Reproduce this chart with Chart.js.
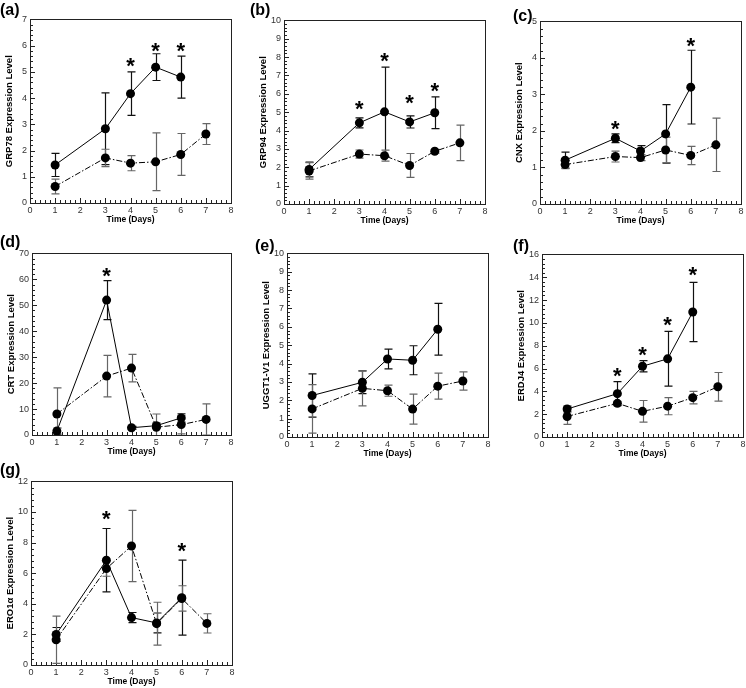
<!DOCTYPE html>
<html>
<head>
<meta charset="utf-8">
<script src="https://cdn.jsdelivr.net/npm/chart.js@4.4.1/dist/chart.umd.min.js"></script>
<style>
  html, body { margin: 0; padding: 0; background: #fff; overflow: hidden; }
  #page { position: relative; width: 746px; height: 688px; }
  .panel { position: absolute; }
  .letter { position: absolute; font: bold 16px "Liberation Sans", Arial, sans-serif; line-height: 1; color: #000; }
</style>
</head>
<body>
<div id="page"></div>
<script>
//<![CDATA[

// days sampled by each curve
let treatedDays = [1, 3, 4, 5, 6];
let controlDays = [1, 3, 4, 5, 6, 7];
let dayTicks = [0, 1, 2, 3, 4, 5, 6, 7, 8];

// (a) GRP78
let grp78Treated = [1.45, 2.83, 4.17, 5.18, 4.80];
let grp78TreatedSd = [0.44, 1.37, 0.83, 0.51, 0.80];
let grp78Control = [0.63, 1.72, 1.52, 1.57, 1.85, 2.63];
let grp78ControlSd = [0.28, 0.33, 0.29, 1.10, 0.80, 0.40];
let grp78Stars = [4, 5, 6];
let grp78StarLevel = [5.45, 6.02, 6.02];

// (b) GRP94
let grp94Treated = [1.88, 4.42, 5.02, 4.47, 4.97];
let grp94TreatedSd = [0.40, 0.27, 2.43, 0.33, 0.87];
let grp94Control = [1.80, 2.72, 2.63, 2.10, 2.87, 3.33];
let grp94ControlSd = [0.45, 0.22, 0.30, 0.65, 0.10, 0.97];
let grp94Stars = [3, 4, 5, 6];
let grp94StarLevel = [5.50, 8.10, 5.83, 6.47];

// (c) CNX
let cnxTreated = [1.20, 1.80, 1.45, 1.92, 3.20];
let cnxTreatedSd = [0.22, 0.12, 0.15, 0.80, 1.01];
let cnxControl = [1.08, 1.30, 1.27, 1.48, 1.33, 1.62];
let cnxControlSd = [0.11, 0.15, 0.08, 0.35, 0.25, 0.73];
let cnxStars = [3, 6];
let cnxStarLevel = [2.20, 4.49];

// (d) CRT
let crtTreated = [1.5, 52.0, 2.8, 3.6, 6.6];
let crtTreatedSd = [1.2, 7.5, 0.5, 1.0, 1.6];
let crtControl = [8.1, 22.7, 25.8, 3.0, 4.0, 6.0];
let crtControlSd = [10.1, 8.0, 5.3, 5.1, 3.6, 6.0];
let crtStars = [3];
let crtStarLevel = [63.6];

// (e) UGGT1-V1
let uggtTreated = [2.26, 2.98, 4.25, 4.18, 5.87];
let uggtTreatedSd = [1.18, 0.62, 0.54, 0.79, 1.41];
let uggtControl = [1.53, 2.65, 2.52, 1.52, 2.77, 3.05];
let uggtControlSd = [1.32, 0.95, 0.30, 0.82, 0.71, 0.50];
let uggtStars = [];
let uggtStarLevel = [];

// (f) ERDJ4
let erdj4Treated = [2.45, 3.80, 6.20, 6.85, 10.95];
let erdj4TreatedSd = [0.25, 1.05, 0.50, 2.40, 2.60];
let erdj4Control = [1.80, 2.95, 2.25, 2.70, 3.45, 4.40];
let erdj4ControlSd = [0.70, 0.15, 0.95, 0.75, 0.55, 1.25];
let erdj4Stars = [3, 4, 5, 6];
let erdj4StarLevel = [5.84, 7.67, 10.35, 14.70];

// (g) ERO1α
let ero1Treated = [2.00, 6.85, 3.10, 2.75, 4.40];
let ero1TreatedSd = [0.45, 2.07, 0.33, 0.65, 2.45];
let ero1Control = [1.65, 6.30, 7.78, 2.70, 4.35, 2.72];
let ero1ControlSd = [1.55, 0.50, 2.33, 1.40, 0.83, 0.63];
let ero1Stars = [3, 6];
let ero1StarLevel = [9.93, 7.85];

let yTitles = [
    'GRP78 Expression Level',
    'GRP94 Expression Level',
    'CNX Expression Level',
    'CRT Expression Level',
    'UGGT1-V1 Expression Level',
    'ERDJ4 Expression Level',
    'ERO1\u03b1 Expression Level'
];
let letters = ['(a)', '(b)', '(c)', '(d)', '(e)', '(f)', '(g)'];
let yAxisMax = [7, 10, 5, 70, 10, 16, 12];
let yAxisStep = [1, 1, 1, 10, 1, 2, 2];

let series = [
    [grp78Treated, grp78TreatedSd, grp78Control, grp78ControlSd, grp78Stars, grp78StarLevel],
    [grp94Treated, grp94TreatedSd, grp94Control, grp94ControlSd, grp94Stars, grp94StarLevel],
    [cnxTreated, cnxTreatedSd, cnxControl, cnxControlSd, cnxStars, cnxStarLevel],
    [crtTreated, crtTreatedSd, crtControl, crtControlSd, crtStars, crtStarLevel],
    [uggtTreated, uggtTreatedSd, uggtControl, uggtControlSd, uggtStars, uggtStarLevel],
    [erdj4Treated, erdj4TreatedSd, erdj4Control, erdj4ControlSd, erdj4Stars, erdj4StarLevel],
    [ero1Treated, ero1TreatedSd, ero1Control, ero1ControlSd, ero1Stars, ero1StarLevel]
];

// layout: plot box [left, right, top, bottom] and letter position [x, y]
let plotBoxes = [
    [30, 231, 19, 203], [284, 485, 20, 204], [540, 741, 21, 204],
    [32, 231, 253, 435], [287, 488, 253, 437], [542, 743, 254, 437],
    [31, 232, 481, 665]
];
let letterPos = [[0, 2], [250, 2], [513, 8], [0, 234], [255, 238], [513, 238], [0, 462]];

const FONT = '"Liberation Sans", Arial, sans-serif';
const Y_AXIS_W = 26;
const X_AXIS_H = 22;
const PAD_TOP = 8;
const PAD_RIGHT = 5;

Chart.defaults.font.family = FONT;
Chart.defaults.color = '#333';

// box round the plot with inward major and minor ticks
const framePlugin = {
    id: 'frame',
    beforeDatasetsDraw(chart) {
        const {ctx, chartArea: a, scales: {x, y}} = chart;
        ctx.save();
        ctx.strokeStyle = '#222';
        ctx.lineWidth = 1;
        ctx.strokeRect(Math.round(a.left) + 0.5, Math.round(a.top) + 0.5,
            Math.round(a.right - a.left), Math.round(a.bottom - a.top));
        ctx.beginPath();
        let ySteps = Math.round(y.max / y.options.ticks.stepSize) * 5;
        for (let k = 1; k < ySteps; k++) {
            let py = Math.round(y.getPixelForValue(k * y.max / ySteps)) + 0.5;
            let len = k % 5 === 0 ? 5 : 3;
            ctx.moveTo(a.left, py);
            ctx.lineTo(a.left + len, py);
        }
        for (let k = 1; k < 40; k++) {
            let px = Math.round(x.getPixelForValue(k / 5)) + 0.5;
            let len = k % 5 === 0 ? 5 : 3;
            ctx.moveTo(px, a.bottom);
            ctx.lineTo(px, a.bottom - len);
        }
        ctx.stroke();
        ctx.restore();
    }
};

// vertical error bars with caps, taken from dataset.sd
const errorBarPlugin = {
    id: 'errorBars',
    beforeDatasetsDraw(chart) {
        const {ctx, chartArea: a, scales: {x, y}} = chart;
        ctx.save();
        ctx.beginPath();
        ctx.rect(a.left, a.top, a.right - a.left, a.bottom - a.top);
        ctx.clip();
        chart.data.datasets.forEach(ds => {
            ctx.strokeStyle = ds.errorColor;
            ctx.lineWidth = 1.2;
            ds.data.forEach((p, i) => {
                let px = Math.round(x.getPixelForValue(p.x)) + 0.5;
                let top = y.getPixelForValue(p.y + ds.sd[i]);
                let bot = y.getPixelForValue(p.y - ds.sd[i]);
                ctx.beginPath();
                ctx.moveTo(px, top);
                ctx.lineTo(px, bot);
                ctx.moveTo(px - 4, top);
                ctx.lineTo(px + 4, top);
                ctx.moveTo(px - 4, bot);
                ctx.lineTo(px + 4, bot);
                ctx.stroke();
            });
        });
        ctx.restore();
    }
};

// significance asterisks
const starPlugin = {
    id: 'stars',
    afterDatasetsDraw(chart, args, opts) {
        const {ctx, scales: {x, y}} = chart;
        ctx.save();
        ctx.fillStyle = '#000';
        ctx.font = 'bold 22px ' + FONT;
        ctx.textAlign = 'center';
        ctx.textBaseline = 'alphabetic';
        opts.days.forEach((d, i) => {
            ctx.fillText('*', x.getPixelForValue(d), y.getPixelForValue(opts.levels[i]) + 22 * 0.58);
        });
        ctx.restore();
    }
};

function points(days, values) {
    return values.map((v, i) => ({x: days[i], y: v}));
}

let page = document.getElementById('page');

series.forEach((s, n) => {
    let [left, right, top, bottom] = plotBoxes[n];
    let w = right - left + Y_AXIS_W + PAD_RIGHT;
    let h = bottom - top + PAD_TOP + X_AXIS_H;

    let box = document.createElement('div');
    box.className = 'panel';
    box.style.left = (left - Y_AXIS_W) + 'px';
    box.style.top = (top - PAD_TOP) + 'px';
    let canvas = document.createElement('canvas');
    canvas.setAttribute('width', w);
    canvas.setAttribute('height', h);
    box.appendChild(canvas);
    page.appendChild(box);

    let letter = document.createElement('div');
    letter.className = 'letter';
    letter.textContent = letters[n];
    letter.style.left = letterPos[n][0] + 'px';
    letter.style.top = letterPos[n][1] + 'px';
    page.appendChild(letter);

    new Chart(canvas, {
        type: 'line',
        data: {
            datasets: [
                {
                    data: points(treatedDays, s[0]),
                    sd: s[1],
                    errorColor: '#111',
                    borderColor: '#000',
                    borderWidth: 1,
                    pointRadius: 4.5,
                    pointBackgroundColor: '#000',
                    pointBorderColor: '#000',
                    pointBorderWidth: 0,
                    tension: 0
                },
                {
                    data: points(controlDays, s[2]),
                    sd: s[3],
                    errorColor: '#666',
                    borderColor: '#000',
                    borderWidth: 1,
                    borderDash: [6, 2, 1.5, 2],
                    pointRadius: 4.5,
                    pointBackgroundColor: '#000',
                    pointBorderColor: '#000',
                    pointBorderWidth: 0,
                    tension: 0
                }
            ]
        },
        options: {
            responsive: false,
            animation: false,
            layout: {
                padding: {left: 0, top: PAD_TOP, right: PAD_RIGHT, bottom: 0}
            },
            plugins: {
                legend: {display: false},
                tooltip: {enabled: false},
                stars: {days: s[4], levels: s[5]}
            },
            scales: {
                x: {
                    type: 'linear',
                    min: dayTicks[0],
                    max: dayTicks[dayTicks.length - 1],
                    grid: {display: false, drawTicks: false},
                    border: {display: false},
                    ticks: {stepSize: 1, padding: 2, font: {size: 9}, color: '#333'},
                    title: {display: true, text: 'Time (Days)', padding: 0, color: '#000',
                        font: {size: 8.5, weight: 'bold'}},
                    afterFit: scale => { scale.height = X_AXIS_H; }
                },
                y: {
                    min: 0,
                    max: yAxisMax[n],
                    grid: {display: false, drawTicks: false},
                    border: {display: false},
                    ticks: {stepSize: yAxisStep[n], padding: 3, font: {size: 9}, color: '#333'},
                    title: {display: true, text: yTitles[n], padding: 0, color: '#000',
                        font: {size: 9.5, weight: 'bold'}},
                    afterFit: scale => { scale.width = Y_AXIS_W; }
                }
            }
        },
        plugins: [framePlugin, errorBarPlugin, starPlugin]
    });
});

// ]]>
</script>
</body>
</html>
